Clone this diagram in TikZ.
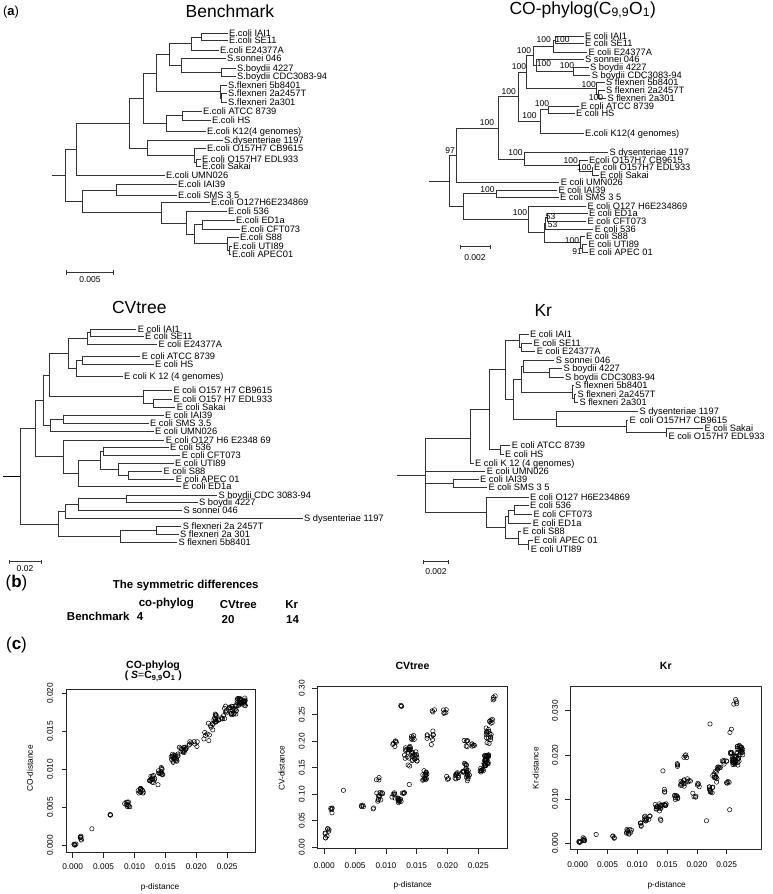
\documentclass[tikz,border=0pt]{standalone}
\usepackage{fontspec}
\setmainfont{Liberation Sans}
\usetikzlibrary{calc}
\newcommand\tleaf[4]{\coordinate (#1) at ({#2-1.5},#3); \node[lbl] (#1t) at (#1) {#4};}
\newcommand\inode[3]{\coordinate (#1) at (#2,#3);}
\tikzset{
 brl/.style={draw=black!80, line width=0.75pt},
 lbl/.style={font=\fontsize{9.3}{10}\selectfont, anchor=west, inner xsep=1.5pt, inner ysep=0pt, text height=6.5pt, text depth=0pt},
 bsl/.style={font=\fontsize{8.5}{9}\selectfont, inner sep=0pt, text height=6pt, text depth=0pt},
 ttl/.style={font=\fontsize{17.5}{20}\selectfont, inner sep=0pt},
 tbl/.style={font=\fontsize{11.5}{13}\selectfont\bfseries, inner sep=0pt},
 tkl/.style={font=\fontsize{8.3}{9}\selectfont, inner sep=0pt},
 ptt/.style={font=\fontsize{10.5}{12}\selectfont\bfseries, inner sep=0pt},
 axl/.style={draw=black!85, line width=0.6pt},
 dot/.style={draw=black, line width=0.5pt},
}
\begin{document}
\begin{tikzpicture}[x=1pt,y=-1pt]
\useasboundingbox (0,0) rectangle (772,894);
\fill[white] (0,0) rectangle (772,894);
% ---------- panel labels ----------
\node[inner sep=0pt] (pa) at (11,12.5) {\fontsize{13}{15}\selectfont(\textbf{a})};
\node[inner sep=0pt] (pb) at (16.5,583.3) {\fontsize{17}{19}\selectfont(\textbf{b})};
\node[inner sep=0pt] (pc) at (16.5,645) {\fontsize{17}{19}\selectfont(\textbf{c})};
% ---------- titles ----------
\node[ttl] (t1) at (230,11) {Benchmark};
\node[ttl] (t2) at (582.7,10) {CO-phylog(C\textsubscript{9,9}O\textsubscript{1})};
\node[ttl] (t3) at (139.3,307.7) {CVtree};
\node[ttl] (t4) at (543.3,310) {Kr};

% ================= Benchmark =================
\tleaf{b1}{229}{33.3}{E.coli IAI1}
\tleaf{b2}{229}{40.7}{E.coli SE11}
\tleaf{b3}{220}{50.7}{E.coli E24377A}
\tleaf{b4}{227}{58.3}{S.sonnei 046}
\tleaf{b5}{237}{68.3}{S.boydii 4227}
\tleaf{b6}{237}{76.3}{S.boydii CDC3083-94}
\tleaf{b7}{228}{85}{S.flexneri 5b8401}
\tleaf{b8}{228}{93.7}{S.flexneri 2a2457T}
\tleaf{b9}{228}{102.3}{S.flexneri 2a301}
\tleaf{b10}{203}{111}{E.coli ATCC 8739}
\tleaf{b11}{212}{120.3}{E.coli HS}
\tleaf{b12}{207}{131}{E.coli K12(4 genomes)}
\tleaf{b13}{224}{140.7}{S.dysenteriae 1197}
\tleaf{b14}{207}{148.3}{E.coli O157H7 CB9615}
\tleaf{b15}{202}{159}{E.coli O157H7 EDL933}
\tleaf{b16}{202}{166.3}{E.coli Sakai}
\tleaf{b17}{166}{175.7}{E.coli UMN026}
\tleaf{b18}{178}{184.7}{E.coli IAI39}
\tleaf{b19}{178}{195}{E.coli SMS 3 5}
\tleaf{b20}{211}{202.3}{E.coli O127H6E234869}
\tleaf{b21}{228}{211.7}{E.coli 536}
\tleaf{b22}{236}{220.7}{E.coli ED1a}
\tleaf{b23}{241}{229}{E.coli CFT073}
\tleaf{b24}{240}{237}{E.coli S88}
\tleaf{b25}{233}{246}{E.coli UTI89}
\tleaf{b26}{232}{254.7}{E.coli APEC01}
\inode{bP1}{201.7}{37}
\inode{bY}{191}{43.8}
\inode{bQ}{221.7}{72.3}
\inode{bZ}{181.7}{65.3}
\inode{bX}{169.3}{54.6}
\inode{bF2}{221.7}{98}
\inode{bF}{220}{91.5}
\inode{bW}{156.7}{73}
\inode{bH2}{182.7}{115.7}
\inode{bH}{166.7}{123.3}
\inode{bV}{143.3}{98.2}
\inode{bO2}{196.3}{162.7}
\inode{bO1}{194.3}{155.5}
\inode{bD}{147.7}{148.1}
\inode{bU}{129.3}{123.2}
\inode{bT}{76}{149.4}
\inode{bB1}{116.7}{190}
\inode{bB6b}{229}{250.3}
\inode{bB6}{227.7}{243.7}
\inode{bB5}{202.3}{224.8}
\inode{bB4}{194.3}{234.3}
\inode{bB3}{186}{223}
\inode{bB2}{161.7}{212.7}
\inode{bB}{82}{201.3}
\inode{bR}{65}{175.4}
\inode{bS}{52}{175.4}
\foreach \p/\c in {bP1/b1,bP1/b2,bY/bP1,bY/b3,bQ/b5,bQ/b6,bZ/b4,bZ/bQ,bX/bY,bX/bZ,bF2/b8,bF2/b9,bF/b7,bF/bF2,bW/bX,bW/bF,bH2/b10,bH2/b11,bH/bH2,bH/b12,bV/bW,bV/bH,bO2/b15,bO2/b16,bO1/b14,bO1/bO2,bD/b13,bD/bO1,bU/bV,bU/bD,bT/bU,bT/b17,bB1/b18,bB1/b19,bB6b/b25,bB6b/b26,bB6/b24,bB6/bB6b,bB5/b22,bB5/b23,bB4/bB5,bB4/bB6,bB3/b21,bB3/bB4,bB2/b20,bB2/bB3,bB/bB1,bB/bB2,bR/bT,bR/bB}
  \draw[brl] (\p) |- (\c);
\draw[brl] (bS) -- (bR);
\coordinate (bsa) at (66.7,272.3); \coordinate (bsb) at (113.3,272.3);
\draw[brl] (bsa) -- (bsb);
\draw[brl] (bsa) ++(0,-2.2) -- ++(0,4.4);
\draw[brl] (bsb) ++(0,-2.2) -- ++(0,4.4);
\node[bsl] (bsl) at (90,279.6) {0.005};

% ================= CO-phylog =================
\tleaf{c1}{585}{36}{E coli IAI1}
\tleaf{c2}{585}{43.7}{E coli SE11}
\tleaf{c3}{588.3}{52}{E coli E24377A}
\tleaf{c4}{585}{59.3}{S sonnei 046}
\tleaf{c5}{590}{67}{S boydii 4227}
\tleaf{c6}{591.7}{75}{S boydii CDC3083-94}
\tleaf{c7}{606}{82.7}{S flexneri 5b8401}
\tleaf{c8}{606}{90.3}{S flexneri 2a2457T}
\tleaf{c9}{607.3}{98}{S flexneri 2a301}
\tleaf{c10}{580.7}{106}{E coli ATCC 8739}
\tleaf{c11}{576}{113.3}{E coli HS}
\tleaf{c12}{585}{133.3}{E.coli K12(4 genomes)}
\tleaf{c13}{609.3}{152.3}{S dysenteriae 1197}
\tleaf{c14}{589}{160}{Ecoli O157H7 CB9615}
\tleaf{c15}{594}{167.3}{E coli O157H7 EDL933}
\tleaf{c16}{600}{175}{E coli Sakai}
\tleaf{c17}{560.7}{182.7}{E coli UMN026}
\tleaf{c18}{558.3}{190}{E coli IAI39}
\tleaf{c19}{560}{197.7}{E coli SMS 3 5}
\tleaf{c20}{587.3}{206}{E coli O127 H6E234869}
\tleaf{c21}{589}{213.7}{E coli ED1a}
\tleaf{c22}{587.3}{221.3}{E coli CFT073}
\tleaf{c23}{594.7}{229}{E coli 536}
\tleaf{c24}{586}{236.7}{E coli S88}
\tleaf{c25}{588.3}{244.3}{E coli UTI89}
\tleaf{c26}{589}{252}{E coli APEC 01}
\inode{cP1}{555.7}{39.9}
\inode{cY}{553.3}{46}
\inode{cQ}{573.3}{71}
\inode{cZ}{536}{65.2}
\inode{cX}{533.3}{55.6}
\inode{cF2}{598}{94.2}
\inode{cF}{596}{88.4}
\inode{cW}{526.7}{72}
\inode{cH2}{548.3}{109.7}
\inode{cH}{540}{121.5}
\inode{cV}{518.3}{96.7}
\inode{cO2}{592.7}{171.2}
\inode{cO1}{579.3}{165.6}
\inode{cD}{524.3}{159}
\inode{cU}{498.3}{127.9}
\inode{cT}{456.7}{155.3}
\inode{cB1}{496.7}{193.8}
\inode{cB5}{547}{217.5}
\inode{cB4}{545.7}{223.3}
\inode{cB7}{582}{248.2}
\inode{cB6}{580}{242.4}
\inode{cB3}{544.3}{232.8}
\inode{cB2}{528.3}{219.4}
\inode{cB}{463.3}{206.6}
\inode{cR}{449.3}{181}
\inode{cS}{429.3}{181}
\foreach \p/\c in {cP1/c1,cP1/c2,cY/cP1,cY/c3,cQ/c5,cQ/c6,cZ/c4,cZ/cQ,cX/cY,cX/cZ,cF2/c8,cF2/c9,cF/c7,cF/cF2,cW/cX,cW/cF,cH2/c10,cH2/c11,cH/cH2,cH/c12,cV/cW,cV/cH,cO2/c15,cO2/c16,cO1/c14,cO1/cO2,cD/c13,cD/cO1,cU/cV,cU/cD,cT/cU,cT/c17,cB1/c18,cB1/c19,cB5/c21,cB5/c22,cB4/cB5,cB4/c23,cB7/c25,cB7/c26,cB6/c24,cB6/cB7,cB3/cB4,cB3/cB6,cB2/c20,cB2/cB3,cB/cB1,cB/cB2,cR/cT,cR/cB}
  \draw[brl] (\p) |- (\c);
\draw[brl] (cS) -- (cR);
\foreach \x/\y/\t [count=\i] in {543.7/39.3/100,562.5/39.3/100,524/50/100,519/66.7/100,544/63.3/100,567/65.7/100,588.8/84/100,596/97.3/100,508.8/91/100,487/122.3/100,542/103.3/100,529.5/115.3/100,450/150/97,515.5/152.7/100,570.8/160/100,584.3/167.3/100,487.5/189.3/100,520/212.3/100,550.5/216/53,552.5/224.3/53,572/240/100,577/251.7/91}
  \node[bsl] (cbs\i) at (\x,\y) {\t};
\coordinate (csa) at (460,246.7); \coordinate (csb) at (490,246.7);
\draw[brl] (csa) -- (csb);
\draw[brl] (csa) ++(0,-2.2) -- ++(0,4.4);
\draw[brl] (csb) ++(0,-2.2) -- ++(0,4.4);
\node[bsl] (csl) at (475,257.3) {0.002};

% ================= CVtree =================
\tleaf{v1}{137.7}{329}{E coli IAI1}
\tleaf{v2}{145}{336.7}{E coli SE11}
\tleaf{v3}{158.3}{344.7}{E coli E24377A}
\tleaf{v4}{141.7}{356.7}{E coli ATCC 8739}
\tleaf{v5}{155}{364.3}{E coli HS}
\tleaf{v6}{124}{376}{E coli K 12 (4 genomes)}
\tleaf{v7}{173.3}{390}{E coli O157 H7 CB9615}
\tleaf{v8}{173.3}{399.3}{E coli O157 H7 EDL933}
\tleaf{v9}{176.7}{407.3}{E coli Sakai}
\tleaf{v10}{165}{415.7}{E coli IAI39}
\tleaf{v11}{150}{423.3}{E coli SMS 3.5}
\tleaf{v12}{155}{431.7}{E coli UMN026}
\tleaf{v13}{165.7}{440}{E coli O127 H6 E2348 69}
\tleaf{v14}{170}{447.7}{E coli 536}
\tleaf{v15}{181.7}{455.7}{E coli CFT073}
\tleaf{v16}{175}{463.3}{E coli UTI89}
\tleaf{v17}{163.3}{471}{E coli S88}
\tleaf{v18}{175.7}{479}{E coli APEC 01}
\tleaf{v19}{182.7}{486.7}{E coli ED1a}
\tleaf{v20}{218.3}{495}{S boydii CDC 3083-94}
\tleaf{v21}{199}{502.7}{S boydii 4227}
\tleaf{v22}{183.3}{510.3}{S sonnei 046}
\tleaf{v23}{304}{518.3}{S dysenteriae 1197}
\tleaf{v24}{182.7}{526.7}{S flexneri 2a 2457T}
\tleaf{v25}{180}{534.3}{S flexneri 2a 301}
\tleaf{v26}{178.3}{542.3}{S flexneri 5b8401}
\inode{vn1}{90}{332.8}
\inode{vn2}{87.3}{338.8}
\inode{vn3}{82.7}{360.5}
\inode{vn4}{76.7}{368.6}
\inode{vn5}{68.3}{353.7}
\inode{vo2}{153.3}{403.3}
\inode{vo1}{143.3}{396.7}
\inode{vn6}{49.3}{375.2}
\inode{vii}{63.3}{419.5}
\inode{vm}{50}{425.6}
\inode{vn7}{43.3}{400.4}
\inode{vs1}{103.3}{451.7}
\inode{vs2}{128.3}{475}
\inode{vL4}{118.3}{469.2}
\inode{vL3}{100}{460.5}
\inode{vL2}{78.3}{473.4}
\inode{vL}{63.3}{456.7}
\inode{vn8}{35}{428.6}
\inode{vS3}{126}{498.8}
\inode{vS2}{78.3}{504.6}
\inode{vS1}{65}{511.4}
\inode{vF2}{156}{530.5}
\inode{vF}{120}{536.4}
\inode{vS}{58}{523.9}
\inode{vR}{20}{476}
\inode{vSt}{2.7}{476}
\foreach \p/\c in {vn1/v1,vn1/v2,vn2/vn1,vn2/v3,vn3/v4,vn3/v5,vn4/vn3,vn4/v6,vn5/vn2,vn5/vn4,vo2/v8,vo2/v9,vo1/v7,vo1/vo2,vn6/vn5,vn6/vo1,vii/v10,vii/v11,vm/vii,vm/v12,vn7/vn6,vn7/vm,vs1/v14,vs1/v15,vs2/v17,vs2/v18,vL4/v16,vL4/vs2,vL3/vs1,vL3/vL4,vL2/vL3,vL2/v19,vL/v13,vL/vL2,vn8/vn7,vn8/vL,vS3/v20,vS3/v21,vS2/vS3,vS2/v22,vS1/vS2,vS1/v23,vF2/v24,vF2/v25,vF/vF2,vF/v26,vS/vS1,vS/vF,vR/vn8,vR/vS}
  \draw[brl] (\p) |- (\c);
\draw[brl, line width=1pt, black] (vSt) -- (vR);
\coordinate (vsa) at (9.3,561.7); \coordinate (vsb) at (41,561.7);
\draw[brl] (vsa) -- (vsb);
\draw[brl] (vsa) ++(0,-2.2) -- ++(0,4.4);
\draw[brl] (vsb) ++(0,-2.2) -- ++(0,4.4);
\node[bsl] (vsl) at (25,568.5) {0.02};

% ================= Kr =================
\tleaf{k1}{530}{334.3}{E coli IAI1}
\tleaf{k2}{533.3}{343}{E coli SE11}
\tleaf{k3}{536.7}{351.3}{E coli E24377A}
\tleaf{k4}{555.7}{360}{S sonnei 046}
\tleaf{k5}{563.3}{368.7}{S boydii 4227}
\tleaf{k6}{565}{377}{S boydii CDC3083-94}
\tleaf{k7}{575}{385.7}{S flexneri 5b8401}
\tleaf{k8}{577.3}{394}{S flexneri 2a2457T}
\tleaf{k9}{579.3}{402.3}{S flexneri 2a301}
\tleaf{k10}{639.3}{411.7}{S dysenteriae 1197}
\tleaf{k11}{629.3}{420.3}{E\, coli O157H7 CB9615}
\tleaf{k12}{704.3}{428.3}{E coli Sakai}
\tleaf{k13}{668.3}{436.7}{E coli O157H7 EDL933}
\tleaf{k14}{511.7}{445.7}{E coli ATCC 8739}
\tleaf{k15}{505}{454}{E coli HS}
\tleaf{k16}{475}{463.3}{E coli K 12 (4 genomes)}
\tleaf{k17}{486.7}{471.3}{E coli UMN026}
\tleaf{k18}{480}{479.3}{E coli IAI39}
\tleaf{k19}{488.3}{487.7}{E coli SMS 3 5}
\tleaf{k20}{530}{497}{E coli O127 H6E234869}
\tleaf{k21}{530}{505.7}{E coli 536}
\tleaf{k22}{533.3}{514.7}{E coli CFT073}
\tleaf{k23}{532.7}{523}{E coli ED1a}
\tleaf{k24}{522.7}{531.7}{E coli S88}
\tleaf{k25}{534}{540.7}{E coli APEC 01}
\tleaf{k26}{530.7}{549}{E coli UTI89}
\inode{kE2}{521.7}{347.2}
\inode{kE}{519.3}{340.8}
\inode{kBo}{549.3}{372.8}
\inode{kG}{523.3}{366.4}
\inode{kF2}{574.7}{398.2}
\inode{kF}{572.7}{392}
\inode{kG2}{521.7}{379.2}
\inode{kOb}{666}{432.5}
\inode{kOa}{626.7}{426.4}
\inode{kDy}{556.7}{419}
\inode{kJ}{513.3}{399}
\inode{kD}{505}{368.9}
\inode{kHA}{500}{449.8}
\inode{kC}{489.3}{409}
\inode{kA}{470}{438}
\inode{kk1}{453.3}{483.5}
\inode{kCF}{514}{510.2}
\inode{kKd}{508.3}{516.6}
\inode{kAU}{528.3}{544.8}
\inode{kKe}{518.3}{538.3}
\inode{kKc}{505}{527.4}
\inode{kKb}{486.7}{512.2}
\inode{kR}{425}{475}
\inode{kSt}{396.7}{475}
\foreach \p/\c in {kE2/k2,kE2/k3,kE/k1,kE/kE2,kBo/k5,kBo/k6,kG/k4,kG/kBo,kF2/k8,kF2/k9,kF/k7,kF/kF2,kG2/kG,kG2/kF,kOb/k12,kOb/k13,kOa/k11,kOa/kOb,kDy/k10,kDy/kOa,kJ/kG2,kJ/kDy,kD/kE,kD/kJ,kHA/k14,kHA/k15,kC/kD,kC/kHA,kA/kC,kA/k16,kk1/k18,kk1/k19,kCF/k21,kCF/k22,kKd/kCF,kKd/k23,kAU/k25,kAU/k26,kKe/k24,kKe/kAU,kKc/kKd,kKc/kKe,kKb/k20,kKb/kKc,kR/kA,kR/k17,kR/kk1,kR/kKb}
  \draw[brl] (\p) |- (\c);
\draw[brl] (kSt) -- (kR);
\coordinate (ksa) at (423.3,561.7); \coordinate (ksb) at (448.3,561.7);
\draw[brl] (ksa) -- (ksb);
\draw[brl] (ksa) ++(0,-2.2) -- ++(0,4.4);
\draw[brl] (ksb) ++(0,-2.2) -- ++(0,4.4);
\node[bsl] (ksl) at (436,571) {0.002};

% ================= (b) table =================
\node[tbl] (tb0) at (185.8,585.7) {The symmetric differences};
\node[tbl] (tb1) at (166.3,603.3) {co-phylog};
\node[tbl] (tb2) at (238.3,605) {CVtree};
\node[tbl] (tb3) at (291.8,605) {Kr};
\node[tbl] (tb4) at (98.3,616.7) {Benchmark};
\node[tbl] (tb5) at (140,616.7) {4};
\node[tbl] (tb6) at (228,619.3) {20};
\node[tbl] (tb7) at (292.5,619.3) {14};

% ================= (c) scatter plots =================
\pgfmathsetseed{7}
% ---- plot 1 ----
\node[ptt] (p1t) at (153,665.7) {CO-phylog};
\node[ptt] (p1s) at (153.3,676.5) {( \textit{S}{\mdseries =}C\textsubscript{9,9}O\textsubscript{1} )};
\draw[axl] (66.7,689.5) rectangle (255.5,852.5);
\foreach \k/\t in {0/0.000,1/0.005,2/0.010,3/0.015,4/0.020,5/0.025}{
  \pgfmathsetmacro\xx{72.7+30.9*\k}
  \draw[axl] (\xx,852.5) -- (\xx,857.5);
  \node[tkl] at (\xx,866.7) {\t};}
\foreach \k/\t in {0/0.000,1/0.005,2/0.010,3/0.015,4/0.020}{
  \pgfmathsetmacro\yy{845.5-38*\k}
  \draw[axl] (66.7,\yy) -- (61.7,\yy);
  \node[tkl,rotate=90] at (50,\yy) {\t};}
\node[tkl] (p1x) at (160,887.3) {p-distance};
\node[tkl,rotate=90] (p1y) at (30,768.3) {CO-distance};
\foreach \cx/\cy/\n/\sx/\sy in {0.3/0.1/5/0.3/0.1, 1.2/1.0/6/0.3/0.4, 3.1/2.2/1/0/0, 6.2/3.9/3/0.2/0.2, 8.8/5.4/10/0.6/0.35, 11.0/7.2/12/0.5/0.3, 13.0/8.7/14/0.6/0.5, 14.3/9.8/12/0.5/0.5, 13.8/8.0/1/0/0, 16.5/11.5/18/0.6/0.6, 17.8/12.6/14/0.6/0.4, 19.5/13.3/8/0.7/0.4, 21.7/14.5/6/0.5/0.7, 22.5/16.0/12/0.7/0.8, 23.8/16.8/12/0.8/0.5, 25.5/17.8/25/1.0/0.6, 27.3/18.9/30/0.8/0.5}{
  \foreach \i in {1,...,\n}{
    \pgfmathsetmacro\px{72.7+6.18*(\cx+\sx*rand)}
    \pgfmathsetmacro\py{845.5-7.6*(\cy+\sy*rand)}
    \draw[dot] (\px,\py) circle (2.2pt);}}
% ---- plot 2 ----
\node[ptt] (p2t) at (412.5,665.7) {CVtree};
\draw[axl] (317.3,686.5) rectangle (507.3,848.5);
\foreach \k/\t in {0/0.000,1/0.005,2/0.010,3/0.015,4/0.020,5/0.025}{
  \pgfmathsetmacro\xx{324.3+30.8*\k}
  \draw[axl] (\xx,848.5) -- (\xx,853.5);
  \node[tkl] at (\xx,865.7) {\t};}
\foreach \k/\t in {0/0.00,1/0.05,2/0.10,3/0.15,4/0.20,5/0.25,6/0.30}{
  \pgfmathsetmacro\yy{847-26.5*\k}
  \draw[axl] (317.3,\yy) -- (312.3,\yy);
  \node[tkl,rotate=90] at (301.7,\yy) {\t};}
\node[tkl] (p2x) at (412.7,885.7) {p-distance};
\node[tkl,rotate=90] (p2y) at (281.7,768.3) {CV-distance};
\foreach \cx/\cy/\n/\sx/\sy in {0.3/1.8/5/0.2/1.0, 0.7/3.1/4/0.2/0.4, 1.2/7.0/5/0.2/0.6, 3.1/10.7/1/0/0, 6.2/7.5/4/0.3/0.6, 8.0/7.3/2/0.1/0.2, 8.7/13.0/3/0.3/0.4, 9.0/9.5/12/0.6/0.9, 11.2/9.7/6/0.4/0.6, 12.2/8.8/10/0.3/0.5, 12.7/10.3/4/0.3/0.3, 13.8/11.8/1/0/0, 11.5/19.5/6/0.4/0.6, 12.5/26.5/3/0.2/0.4, 13.5/18.0/16/0.5/1.5, 14.6/17.0/16/0.5/1.0, 14.5/20.5/6/0.4/0.6, 13.8/15.3/2/0.2/0.2, 16.3/13.5/16/0.4/1.0, 17.5/20.5/6/0.3/1.5, 17.7/25.5/3/0.2/0.4, 16.5/21.0/3/0.3/0.5, 19.6/25.5/5/0.4/0.6, 20.0/13.2/3/0.2/0.5, 21.5/13.5/10/0.3/0.8, 22.6/15.0/10/0.5/0.9, 23.3/13.5/12/0.3/1.0, 23.0/19.5/6/0.4/0.6, 24.2/19.2/5/0.3/0.5, 25.6/14.5/8/0.3/0.4, 26.3/16.5/30/0.4/1.2, 26.7/21.0/16/0.5/1.5, 27.0/23.5/6/0.4/0.8, 27.7/28.0/4/0.3/0.6}{
  \foreach \i in {1,...,\n}{
    \pgfmathsetmacro\px{324.3+6.16*(\cx+\sx*rand)}
    \pgfmathsetmacro\py{847-5.3*(\cy+\sy*rand)}
    \draw[dot] (\px,\py) circle (2.2pt);}}
% ---- plot 3 ----
\node[ptt] (p3t) at (665.8,665.7) {Kr};
\draw[axl] (570,686.5) rectangle (761,849.3);
\foreach \k/\t in {0/0.000,1/0.005,2/0.010,3/0.015,4/0.020,5/0.025}{
  \pgfmathsetmacro\xx{577.7+29.8*\k}
  \draw[axl] (\xx,849.3) -- (\xx,854.3);
  \node[tkl] at (\xx,865) {\t};}
\foreach \k/\t in {0/0.000,1/0.010,2/0.020,3/0.030}{
  \pgfmathsetmacro\yy{843.3-44.2*\k}
  \draw[axl] (570,\yy) -- (565,\yy);
  \node[tkl,rotate=90] at (555,\yy) {\t};}
\node[tkl] (p3x) at (666.7,885.7) {p-distance};
\node[tkl,rotate=90] (p3y) at (535.7,768.3) {Kr-distance};
\foreach \cx/\cy/\n/\sx/\sy in {0.3/0.4/4/0.2/0.2, 1.2/1.0/6/0.3/0.4, 3.1/2.0/1/0/0, 6.0/1.4/4/0.3/0.4, 8.6/2.7/10/0.6/0.7, 10.6/4.2/5/0.3/0.6, 11.7/5.6/10/0.6/0.6, 13.5/8.0/14/0.5/1.0, 14.5/8.8/6/0.4/0.4, 14.5/11.8/3/0.2/0.5, 14.3/16.4/1/0/0, 13.9/5.0/2/0.2/0.5, 16.4/10.5/8/0.4/0.6, 16.6/17.6/4/0.3/0.5, 17.6/13.7/10/0.5/0.8, 18.0/19.6/4/0.3/0.6, 18.7/14.2/4/0.3/0.4, 19.6/11.2/4/0.3/0.8, 20.2/13.2/4/0.3/0.4, 21.6/5.1/1/0/0, 22.4/12.0/10/0.4/0.9, 23.0/15.0/10/0.4/1.4, 23.6/17.2/6/0.4/0.6, 24.6/18.3/6/0.5/0.6, 25.2/13.5/4/0.3/0.6, 25.5/7.6/1/0/0, 25.6/20.3/4/0.2/0.3, 26.5/18.8/30/0.6/1.2, 27.2/21.2/20/0.5/1.2, 26.4/32.5/4/0.3/1.2, 25.5/25.5/2/0.3/0.5, 22.2/27.0/1/0/0}{
  \foreach \i in {1,...,\n}{
    \pgfmathsetmacro\px{577.7+5.96*(\cx+\sx*rand)}
    \pgfmathsetmacro\py{843.3-4.42*(\cy+\sy*rand)}
    \draw[dot] (\px,\py) circle (2.2pt);}}
\end{tikzpicture}
\end{document}
